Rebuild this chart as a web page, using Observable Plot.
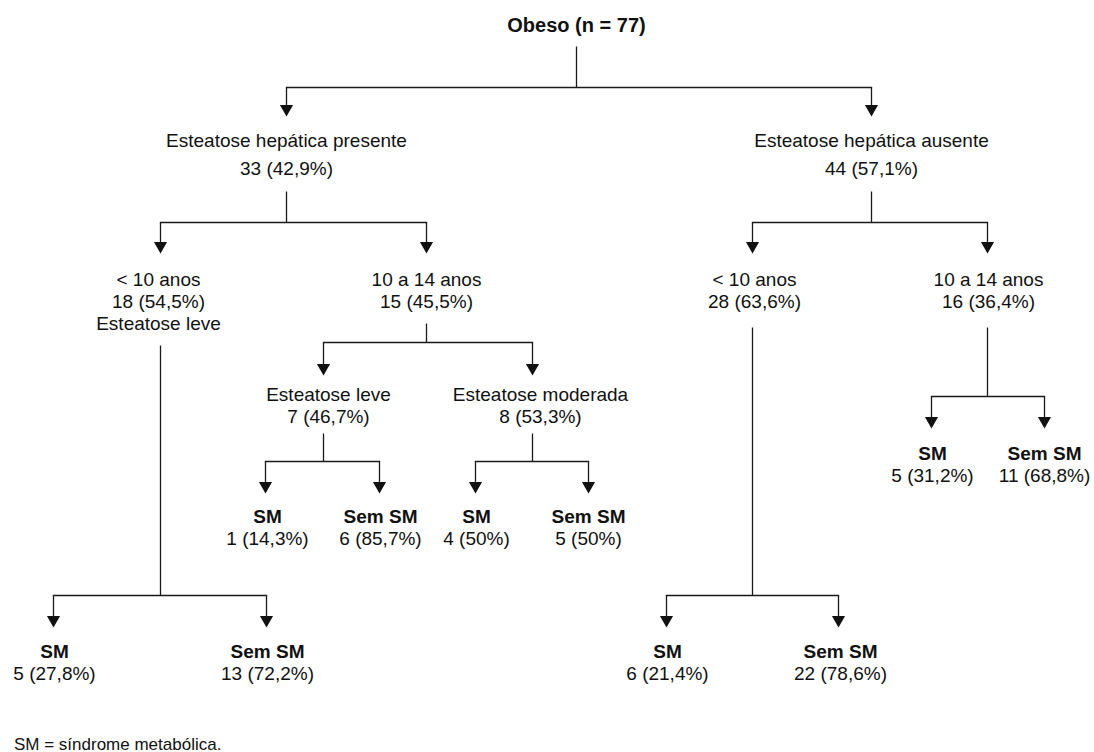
<!DOCTYPE html>
<html>
<head>
<meta charset="utf-8">
<script src="https://cdn.jsdelivr.net/npm/d3@7"></script>
<script src="https://cdn.jsdelivr.net/npm/@observablehq/plot@0.6"></script>
<style>
  html, body { margin: 0; padding: 0; background: #fff; }
  #chart svg { display: block; }
  #foot { font-family: "Liberation Sans", Arial, Helvetica, sans-serif; font-size: 17px; line-height: 20px; color: #111; margin: 7px 0 0 14px; }
</style>
</head>
<body>
<div id="chart"></div>
<div id="foot">SM = síndrome metabólica.</div>
<script>
// ---- data: tree nodes ----
const nodeIds   = ["root","pres","aus","p_lt10","p_10a14","a_lt10","a_10a14",
                   "p_lt10_sm","p_lt10_sem","p_leve","p_mod",
                   "p_leve_sm","p_leve_sem","p_mod_sm","p_mod_sem",
                   "a_lt10_sm","a_lt10_sem","a_10a14_sm","a_10a14_sem"];
const parentIds = [null,"root","root","pres","pres","aus","aus",
                   "p_lt10","p_lt10","p_10a14","p_10a14",
                   "p_leve","p_leve","p_mod","p_mod",
                   "a_lt10","a_lt10","a_10a14","a_10a14"];
const titles    = ["Obeso","Esteatose hepática presente","Esteatose hepática ausente",
                   "< 10 anos","10 a 14 anos","< 10 anos","10 a 14 anos",
                   "SM","Sem SM","Esteatose leve","Esteatose moderada",
                   "SM","Sem SM","SM","Sem SM","SM","Sem SM","SM","Sem SM"];
const counts    = [77,33,44,18,15,28,16,5,13,7,8,1,6,4,5,6,22,5,11];
const percents  = [null,"42,9%","57,1%","54,5%","45,5%","63,6%","36,4%",
                   "27,8%","72,2%","46,7%","53,3%","14,3%","85,7%","50%","50%",
                   "21,4%","78,6%","31,2%","68,8%"];
const extras    = ["","","","Esteatose leve","","","","","","","","","","","","","","",""];

// ---- layout (diagram positions, separate from the data) ----
const layoutX   = [576,286,871,160,426,752,987,53,266,323,532,265,379,475,588,666,838,931,1044];
const labelDX   = [0,0,0,-2,0,2,1,1,1,5,8,2,1,1,0,1,2,1,0];
const tipY      = [null,116,116,253,253,253,253,627,627,375,375,493,493,493,493,627,627,428,428];
const textY     = [25,140,140,279,279,279,279,651,651,394,394,516,516,516,516,651,651,453,453];
const lineGap   = [0,28,28,22,22,22,22,22,22,22,22,22,22,22,22,22,22,22,22];
const stemTop   = {root:46, pres:191, aus:191, p_lt10:345, p_10a14:323, a_lt10:327, a_10a14:327, p_leve:433, p_mod:433};
const branchY   = {root:87, pres:222, aus:222, p_lt10:595, p_10a14:342, a_lt10:595, a_10a14:396, p_leve:461, p_mod:461};

const W = 1094, H = 728;
const S = 7.6;               // triangle2 half-size (s)
const R = S / (Math.sqrt(Math.PI) * 0.6824);
const lineColor = "#1a1a1a";

const nodes = nodeIds.map((id, i) => ({
  id, i, parent: parentIds[i], title: titles[i], count: counts[i], pct: percents[i], extra: extras[i],
  x: layoutX[i], tip: tipY[i]
}));
const byId = new Map(nodes.map(d => [d.id, d]));
const isParent = new Set(parentIds.filter(Boolean));

// text lines
const textRows = [];
nodes.forEach((d, i) => {
  const leaf = !isParent.has(d.id);
  const lines = i === 0
    ? [{t: `${d.title} (n = ${d.count})`, b: true}]
    : [{t: d.title, b: leaf}, {t: `${d.count} (${d.pct})`, b: false}];
  if (d.extra) lines.push({t: d.extra, b: false});
  lines.forEach((l, k) => textRows.push({x: d.x + labelDX[i], y: textY[i] + k * lineGap[i], text: l.t, bold: l.b, root: i === 0}));
});

// connectors
const parents = [...isParent].map(id => byId.get(id));
const stems = parents.map(p => ({x1: p.x, y1: stemTop[p.id], x2: p.x, y2: branchY[p.id]}));
const bars = parents.map(p => {
  const kids = nodes.filter(n => n.parent === p.id).map(n => n.x);
  return {x1: d3.min(kids), y1: branchY[p.id], x2: d3.max(kids), y2: branchY[p.id]};
});
const children = nodes.filter(n => n.parent);
const drops = children.map(c => ({x1: c.x, y1: branchY[c.parent], x2: c.x, y2: c.tip - 1.5 * S + 1}));

const chart = Plot.plot({
  width: W, height: H, margin: 0,
  x: {domain: [0, W], range: [0, W], axis: null},
  y: {domain: [0, H], range: [0, H], axis: null},
  style: {fontFamily: '"Liberation Sans", Arial, Helvetica, sans-serif', background: "#fff", color: "#111"},
  marks: [
    Plot.link(stems, {x1: "x1", y1: "y1", x2: "x2", y2: "y2", stroke: lineColor, strokeWidth: 1.3}),
    Plot.link(bars,  {x1: "x1", y1: "y1", x2: "x2", y2: "y2", stroke: lineColor, strokeWidth: 1.3, strokeLinecap: "square"}),
    Plot.link(drops, {x1: "x1", y1: "y1", x2: "x2", y2: "y2", stroke: lineColor, strokeWidth: 1.3}),
    Plot.dot(children, {x: "x", y: "tip", dy: -S, symbol: "triangle2", rotate: 180, r: R, fill: "#111", stroke: "none"}),
    Plot.text(textRows.filter(d => !d.bold), {x: "x", y: "y", text: "text", fontSize: 19, fill: "#111"}),
    Plot.text(textRows.filter(d => d.bold && !d.root), {x: "x", y: "y", text: "text", fontSize: 19, fontWeight: "bold", fill: "#111"}),
    Plot.text(textRows.filter(d => d.root), {x: "x", y: "y", text: "text", fontSize: 20, fontWeight: "bold", fill: "#111"})
  ]
});
document.getElementById("chart").appendChild(chart);
</script>
</body>
</html>
